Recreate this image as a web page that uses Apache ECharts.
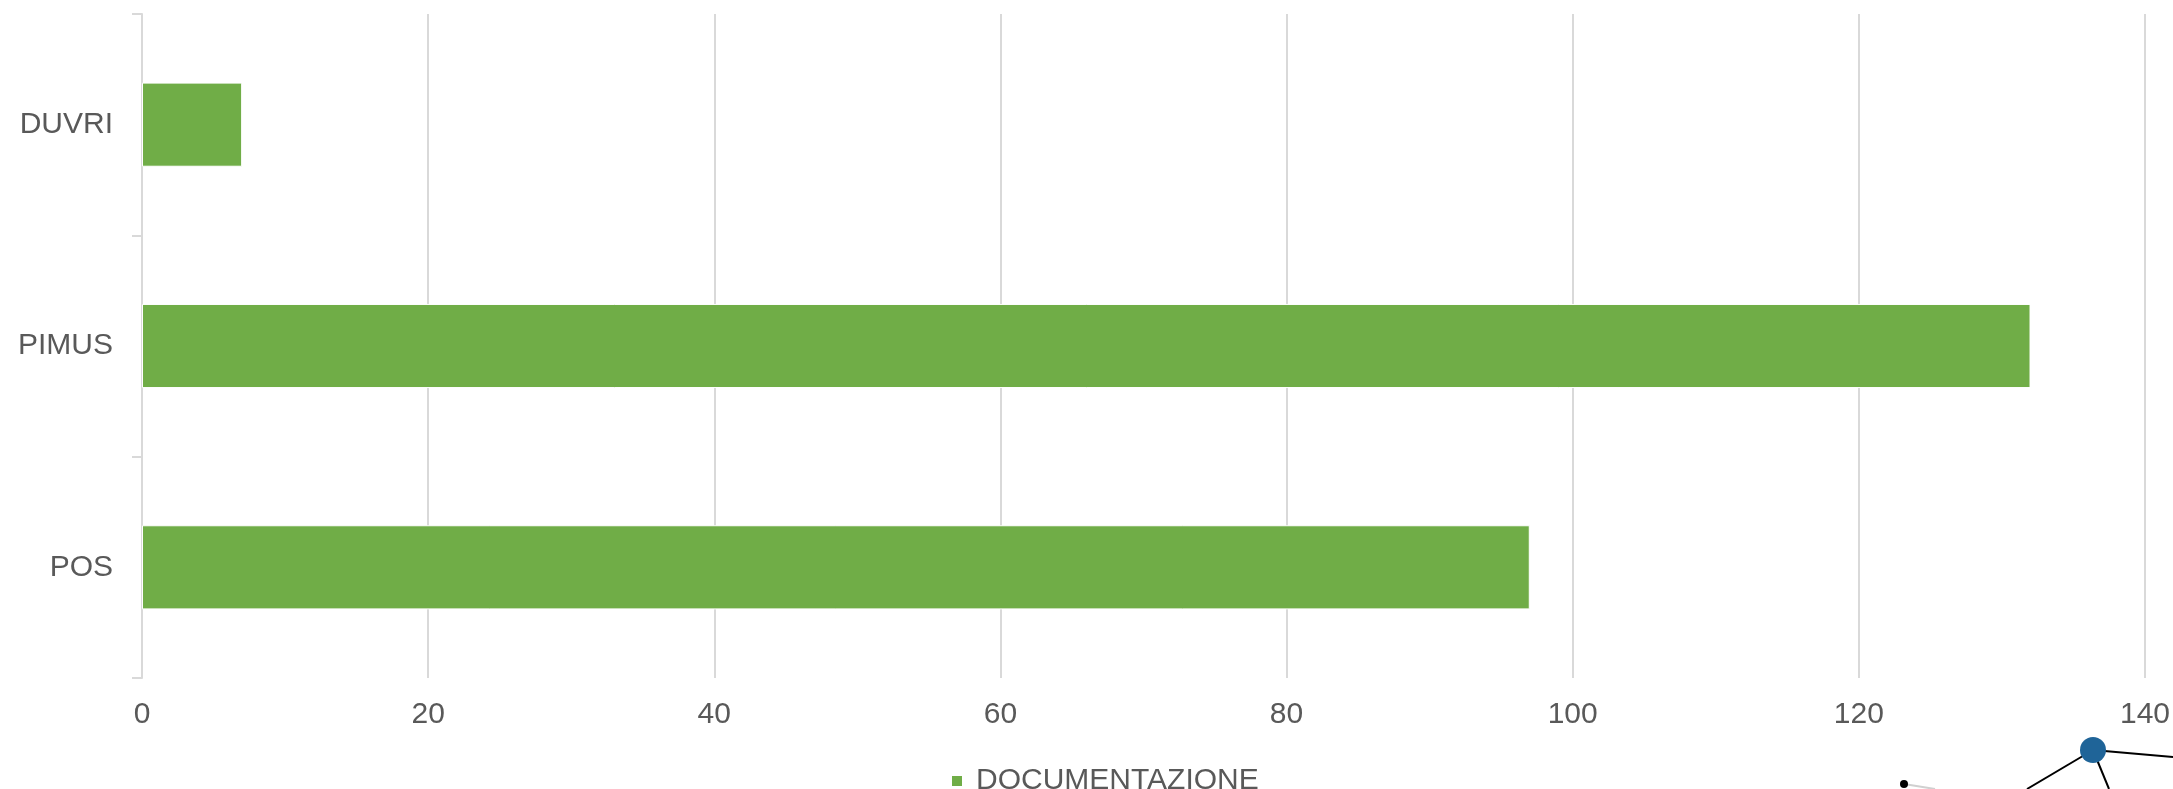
<!DOCTYPE html>
<html>
<head>
<meta charset="utf-8">
<script src="https://cdn.jsdelivr.net/npm/echarts@6/dist/echarts.min.js"></script>
<style>
html,body{margin:0;padding:0;background:#fff;}
#chart{width:2173px;height:789px;}
</style>
</head>
<body>
<div id="chart"></div>
<script>
const categories = ['POS', 'PIMUS', 'DUVRI'];
const seriesName = 'DOCUMENTAZIONE';
const values = [97, 132, 7];
const xMin = 0, xMax = 140, xStep = 20;

const chart = echarts.init(document.getElementById('chart'), null, {renderer: 'canvas'});
const font = '"Liberation Sans", Arial, sans-serif';
chart.setOption({
  animation: false,
  backgroundColor: '#ffffff',
  grid: {left: 142, right: 24, top: 14, bottom: 111, containLabel: false},
  legend: {
    data: [seriesName],
    left: 945, top: 761,
    icon: 'rect', itemWidth: 12, itemHeight: 12,
    textStyle: {color: '#595959', fontSize: 30, fontFamily: font, padding: [0, 0, 0, 8]}
  },
  xAxis: {
    type: 'value', min: xMin, max: xMax, interval: xStep,
    axisLine: {show: false}, axisTick: {show: false},
    axisLabel: {color: '#595959', fontSize: 30, fontFamily: font, margin: 22},
    splitLine: {show: true, lineStyle: {color: '#d9d9d9', width: 2}}
  },
  yAxis: {
    type: 'category', data: categories,
    axisLine: {show: true, lineStyle: {color: '#d9d9d9', width: 2}},
    axisTick: {show: true, length: 10, lineStyle: {color: '#d9d9d9', width: 2}},
    axisLabel: {color: '#595959', fontSize: 30, fontFamily: font, margin: 29}
  },
  series: [{
    name: seriesName, type: 'bar', data: values, barWidth: '38%',
    itemStyle: {color: '#70ad47', borderColor: '#ffffff', borderWidth: 1}
  }],
  graphic: [
    {type: 'line', z: 100, shape: {x1: 2093, y1: 750, x2: 2173, y2: 757}, style: {stroke: '#000', lineWidth: 2}},
    {type: 'line', z: 100, shape: {x1: 2093, y1: 750, x2: 2027, y2: 789}, style: {stroke: '#000', lineWidth: 2}},
    {type: 'line', z: 100, shape: {x1: 2093, y1: 750, x2: 2109, y2: 789}, style: {stroke: '#000', lineWidth: 2}},
    {type: 'line', z: 100, shape: {x1: 1904, y1: 784, x2: 1935, y2: 789}, style: {stroke: '#d0d0d0', lineWidth: 2}},
    {type: 'circle', z: 101, shape: {cx: 2093, cy: 750, r: 13}, style: {fill: '#1f6498'}},
    {type: 'circle', z: 101, shape: {cx: 1904, cy: 784, r: 4}, style: {fill: '#000'}}
  ]
});
</script>
</body>
</html>
